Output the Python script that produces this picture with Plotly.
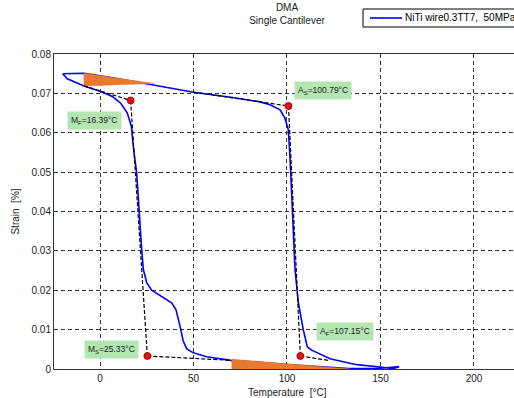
import plotly.graph_objects as go

# ---- data ----
heat_T = [-20, -8.6, 10, 30, 50, 70, 85, 91, 96.3, 98.9, 100.7, 101.6, 102.5, 103.4,
          104.3, 106.1, 108.7, 110.9, 113.2, 123, 137.3, 149.7, 156.8, 160]
heat_strain = [0.0750, 0.0751, 0.0737, 0.0720, 0.0703, 0.0690, 0.0679, 0.0671, 0.0658,
               0.0637, 0.0608, 0.0540, 0.0455, 0.0354, 0.0252, 0.0168, 0.0100, 0.0056,
               0.0048, 0.0026, 0.0011, 0.0005, 0.0001, 0.0006]
cool_T = [160, 150, 133, 115, 100, 85, 70, 57, 49.9, 46.4, 44.5, 42.8, 40.6, 38.3, 32.1,
          27.6, 25, 23.2, 22.3, 21, 19.6, 17.8, 16.8, 14.6, 11.1, 6.6, 0.4, -8.6, -17.5, -20]
cool_strain = [0.0006, 0.0002, 0.0001, 0.0006, 0.0011, 0.0017, 0.0022, 0.0031, 0.0041,
               0.0051, 0.0071, 0.0109, 0.0151, 0.0168, 0.0186, 0.0200, 0.0219, 0.0252,
               0.0303, 0.0396, 0.0498, 0.0565, 0.0616, 0.0650, 0.0675, 0.0692, 0.0705,
               0.0719, 0.0737, 0.0750]

tri_top_T = [-8.6, -8.6, 29, -8.6]
tri_top_strain = [0.0751, 0.0719, 0.0725, 0.0751]
tri_bot_T = [70.5, 70.5, 133.5, 70.5]
tri_bot_strain = [0.0025, 0.0, 0.0, 0.0025]

# transformation points
pt_names = ["M<sub>F</sub>=16.39°C", "M<sub>S</sub>=25.33°C",
            "A<sub>S</sub>=100.79°C", "A<sub>F</sub>=107.15°C"]
pt_T = [16.39, 25.33, 100.79, 107.15]
pt_strain = [0.0682, 0.0033, 0.0668, 0.0033]
label_T = [-3.2, 6.4, 119, 131]
label_strain = [0.0630, 0.0049, 0.0708, 0.0094]

# tangent construction lines (pairs of endpoints)
tan_T = [[-8.6, 16.39], [16.39, 25.33], [25.33, 70], [50, 100.79], [100.79, 107.15], [107.15, 122]]
tan_strain = [[0.0719, 0.0682], [0.0682, 0.0033], [0.0033, 0.0022], [0.0703, 0.0668],
              [0.0668, 0.0033], [0.0033, 0.0022]]

series_name = "NiTi wire0.3TT7,  50MPa"
x_ticks = [0, 50, 100, 150, 200]
y_ticks = [0, 0.01, 0.02, 0.03, 0.04, 0.05, 0.06, 0.07, 0.08]
y_tick_text = ["0", "0.01", "0.02", "0.03", "0.04", "0.05", "0.06", "0.07", "0.08"]

FONT = "Liberation Sans, Arial, sans-serif"
BLUE = "#0000FF"
ORANGE = "#E8792E"
GREEN = "#B3E6B1"

W, H = 514, 398
ML, MR, MT, MB = 54, 0, 54, 29
PW, PH = W - ML - MR, H - MT - MB


def px_x(p):  # pixel x -> paper coordinate
    return (p - ML) / PW


def px_y(p):  # pixel y (from top) -> paper coordinate
    return 1 + (MT - p) / PH


fig = go.Figure()

fig.add_trace(go.Scatter(x=heat_T + cool_T, y=heat_strain + cool_strain, mode="lines",
                         line=dict(color=BLUE, width=1.6), name=series_name,
                         showlegend=False))

for tx, ty in [(tri_top_T, tri_top_strain), (tri_bot_T, tri_bot_strain)]:
    fig.add_trace(go.Scatter(x=tx, y=ty, mode="lines", fill="toself", fillcolor=ORANGE,
                             line=dict(color=ORANGE, width=0.5), showlegend=False,
                             hoverinfo="skip"))

for tx, ty in zip(tan_T, tan_strain):
    fig.add_trace(go.Scatter(x=tx, y=ty, mode="lines",
                             line=dict(color="black", width=1.2, dash="4px,2px"),
                             showlegend=False, hoverinfo="skip"))

fig.add_trace(go.Scatter(x=pt_T, y=pt_strain, mode="markers",
                         marker=dict(color="#E81010", size=7,
                                     line=dict(color="#900000", width=0.8)),
                         showlegend=False))

for txt, lx, ly in zip(pt_names, label_T, label_strain):
    fig.add_annotation(x=lx, y=ly, text=txt, showarrow=False,
                       font=dict(family=FONT, size=8.5, color="#222"),
                       bgcolor=GREEN, borderpad=3)

# legend box (cropped at the right edge like the reference)
fig.add_shape(type="rect", xref="paper", yref="paper",
              x0=px_x(363), x1=px_x(540), y0=px_y(27), y1=px_y(9),
              line=dict(color="black", width=1), fillcolor="white", layer="above")
fig.add_shape(type="line", xref="paper", yref="paper",
              x0=px_x(370), x1=px_x(402), y0=px_y(18), y1=px_y(18),
              line=dict(color=BLUE, width=1.6), layer="above")
fig.add_annotation(xref="paper", yref="paper", x=px_x(403), y=px_y(18),
                   xanchor="left", yanchor="middle", text=series_name, showarrow=False,
                   font=dict(family=FONT, size=10, color="black"))

# x axis title placed exactly
fig.add_annotation(xref="paper", yref="paper", x=px_x(287), y=px_y(392),
                   xanchor="center", yanchor="middle", text="Temperature  [°C]",
                   showarrow=False, font=dict(family=FONT, size=10, color="#222"))

axis_common = dict(showgrid=True, gridcolor="#333", griddash="4px,3px", gridwidth=1,
                   zeroline=False, showline=True, linecolor="#333", linewidth=1,
                   tickfont=dict(family=FONT, size=10, color="#222"), ticks="")

fig.update_xaxes(range=[-24.6, 221.4], tickvals=x_ticks, mirror=True, **axis_common)
fig.update_yaxes(range=[0, 0.08], tickvals=y_ticks, ticktext=y_tick_text, mirror=False,
                 title=dict(text="Strain  [%]", font=dict(family=FONT, size=10, color="#222"),
                            standoff=10),
                 **axis_common)

fig.update_layout(
    width=W, height=H,
    margin=dict(l=ML, r=MR, t=MT, b=MB),
    paper_bgcolor="white", plot_bgcolor="white",
    font=dict(family=FONT, size=10, color="#222"),
    title=dict(text="DMA<br>Single Cantilever", x=px_x(287), xref="paper",
               xanchor="center", y=1 - 11 / H, yanchor="top",
               font=dict(family=FONT, size=10, color="#222")),
    showlegend=False,
)

fig.write_html("out.html")
